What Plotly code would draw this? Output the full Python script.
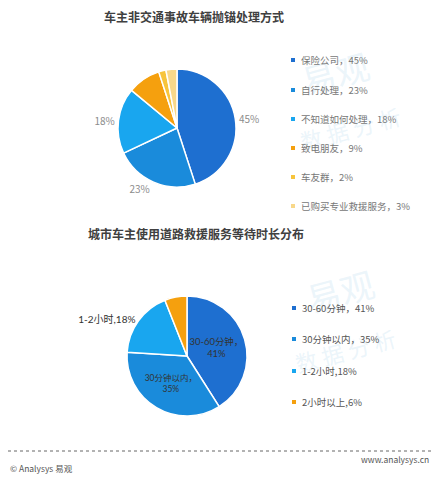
import plotly.graph_objects as go

W, H = 439, 477
OFF = 8  # page body margin in the browser
FONT = "Noto Sans CJK SC"
LABEL_FONT = "Lato, Noto Sans CJK SC"

# Chart 1: breakdown handling for non-accident vehicle failures
title1 = "车主非交通事故车辆抛锚处理方式"
labels1 = ["保险公司", "自行处理", "不知道如何处理", "致电朋友", "车友群", "已购买专业救援服务"]
values1 = [45, 23, 18, 9, 2, 3]
colors1 = ["#1e6fd0", "#1a8bdb", "#19a6ef", "#f5a00e", "#f7c43c", "#f8d88a"]

# Chart 2: waiting time for road rescue service
title2 = "城市车主使用道路救援服务等待时长分布"
labels2 = ["30-60分钟", "30分钟以内", "1-2小时", "2小时以上"]
values2 = [41, 35, 18, 6]
colors2 = ["#1e6fd0", "#1a8bdb", "#19a6ef", "#f5a00e"]
seps2 = ["，", "，", ",", ","]


def px2x(x):
    return (x - OFF) / W


def px2y(y):
    return 1 - (y - OFF) / H


fig = go.Figure()

fig.add_trace(go.Pie(
    labels=labels1,
    values=values1,
    sort=False,
    direction="clockwise",
    rotation=0,
    marker=dict(colors=colors1, line=dict(color="white", width=1.5)),
    texttemplate=["%{value}%" if i < 3 else "" for i in range(len(values1))],
    textposition="outside",
    textfont=dict(family=FONT, size=10, color="#8c8c8c"),
    domain=dict(x=[px2x(118), px2x(236)], y=[px2y(187), px2y(69)]),
    showlegend=False,
    hoverinfo="label+percent",
))

text2 = [
    f"{labels2[0]}{seps2[0]}<br>{values2[0]}%",
    f"{labels2[1]}{seps2[1]}<br>{values2[1]}%",
    f"{labels2[2]}{seps2[2]}{values2[2]}%",
    "",
]
fig.add_trace(go.Pie(
    labels=labels2,
    values=values2,
    sort=False,
    direction="clockwise",
    rotation=0,
    marker=dict(colors=colors2, line=dict(color="white", width=1.5)),
    text=text2,
    texttemplate="%{text}",
    textposition=["inside", "inside", "outside", "none"],
    insidetextorientation="horizontal",
    textfont=dict(family=LABEL_FONT, size=10, color="#333333"),
    domain=dict(x=[px2x(127), px2x(247)], y=[px2y(416), px2y(296)]),
    showlegend=False,
    hoverinfo="label+percent",
))

annotations = []
shapes = []

# faint watermarks
for (x, y, t, s) in [(335, 72, "易观", 34), (350, 128, "数 据 分 析", 22),
                     (340, 290, "易观", 34), (345, 350, "数 据 分 析", 22)]:
    annotations.append(dict(
        x=px2x(x), y=px2y(y), xref="paper", yref="paper", text=t, showarrow=False,
        xanchor="center", yanchor="middle", textangle=-15,
        font=dict(family=FONT, size=s, color="rgba(190,220,240,0.3)"),
    ))

annotations.append(dict(
    x=px2x(194), y=px2y(17), xref="paper", yref="paper", text=f"<b>{title1}</b>",
    showarrow=False, xanchor="center", yanchor="middle",
    font=dict(family=FONT, size=12, color="#404040"),
))
annotations.append(dict(
    x=px2x(196), y=px2y(233), xref="paper", yref="paper", text=f"<b>{title2}</b>",
    showarrow=False, xanchor="center", yanchor="middle",
    font=dict(family=FONT, size=12, color="#404040"),
))

legend1_y = [60, 90, 119, 148, 177, 206]
for i, lab in enumerate(labels1):
    y = legend1_y[i]
    shapes.append(dict(type="rect", xref="paper", yref="paper",
                       x0=px2x(291), x1=px2x(295), y0=px2y(y + 2), y1=px2y(y - 2),
                       fillcolor=colors1[i], line=dict(width=0)))
    annotations.append(dict(
        x=px2x(299), y=px2y(y), xref="paper", yref="paper",
        xanchor="left", yanchor="middle",
        text=f"{lab}，{values1[i]}%", showarrow=False,
        font=dict(family=FONT, size=9.5, color="#777777"),
    ))

legend2_y = [308, 339, 371, 402]
for i, lab in enumerate(labels2):
    y = legend2_y[i]
    shapes.append(dict(type="rect", xref="paper", yref="paper",
                       x0=px2x(292), x1=px2x(296), y0=px2y(y + 2), y1=px2y(y - 2),
                       fillcolor=colors2[i], line=dict(width=0)))
    annotations.append(dict(
        x=px2x(300), y=px2y(y), xref="paper", yref="paper",
        xanchor="left", yanchor="middle",
        text=f"{lab}{seps2[i]}{values2[i]}%", showarrow=False,
        font=dict(family=FONT, size=9.5, color="#555555"),
    ))

# footer
shapes.append(dict(type="line", xref="paper", yref="paper",
                   x0=0, x1=1, y0=px2y(451), y1=px2y(451),
                   line=dict(color="#666666", width=1, dash="dot")))
annotations.append(dict(
    x=px2x(431), y=px2y(459), xref="paper", yref="paper",
    xanchor="right", yanchor="middle",
    text="www.analysys.cn", showarrow=False,
    font=dict(family=FONT, size=8.5, color="#555555"),
))
annotations.append(dict(
    x=px2x(8), y=px2y(468), xref="paper", yref="paper",
    xanchor="left", yanchor="middle",
    text="© Analysys 易观", showarrow=False,
    font=dict(family=FONT, size=8.5, color="#555555"),
))

fig.update_layout(
    width=W,
    height=H,
    margin=dict(l=0, r=0, t=0, b=0),
    paper_bgcolor="white",
    plot_bgcolor="white",
    annotations=annotations,
    shapes=shapes,
    font=dict(family=FONT),
)

fig.write_html("out.html")
